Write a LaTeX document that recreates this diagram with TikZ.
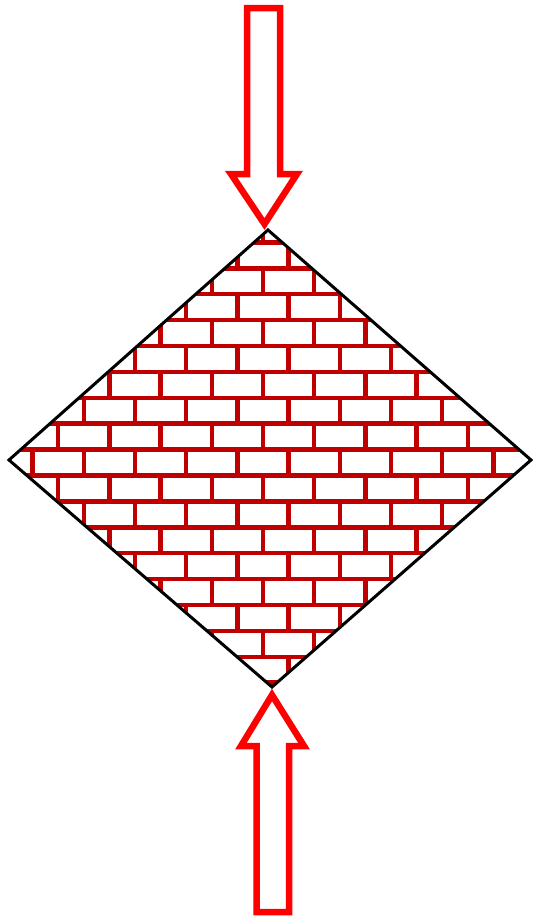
\documentclass[tikz,border=0pt]{standalone}
\definecolor{mortar}{RGB}{192,0,0}
\definecolor{arrowred}{RGB}{255,0,0}
\tikzset{
  bigarrow/.style={draw=arrowred, line width=6.5pt, fill=white, line join=miter, miter limit=10},
  outline/.style={draw=black, line width=3pt, line join=miter},
  mortarline/.style={draw=mortar, line width=4.5pt}
}
\begin{document}
\begin{tikzpicture}[x=1pt,y=-1pt]
\useasboundingbox (0,0) rectangle (533,919);
% named corners of the diamond
\coordinate (T) at (268,230);
\coordinate (R) at (531,460);
\coordinate (B) at (272,687);
\coordinate (L) at (9,460);
% top arrow
\draw[bigarrow] (247,8) -- (280,8) -- (280,174) -- (297,174) -- (264.5,224) -- (231,174) -- (247,174) -- cycle;
% bottom arrow
\draw[bigarrow] (256.5,912) -- (289,912) -- (289,746) -- (304,746) -- (272,695) -- (241,746) -- (256.5,746) -- cycle;
% brick fill
\begin{scope}
  \clip (T) -- (R) -- (B) -- (L) -- cycle;
  \fill[white] (T) -- (R) -- (B) -- (L) -- cycle;
  \foreach \k in {-2,...,17} {
    \pgfmathsetmacro\ya{268.3+25.9*\k}
    \pgfmathsetmacro\yb{\ya+25.9}
    \pgfmathsetmacro\off{mod(\k+100,2)==1 ? 237.4 : 263}
    \draw[mortarline] (0,\ya) -- (533,\ya);
    \foreach \m in {-6,...,6} {
      \pgfmathsetmacro\xx{\off+51.2*\m}
      \draw[mortarline] (\xx,\ya) -- (\xx,\yb);
    }
  }
\end{scope}
\draw[outline] (T) -- (R) -- (B) -- (L) -- cycle;
\end{tikzpicture}
\end{document}
